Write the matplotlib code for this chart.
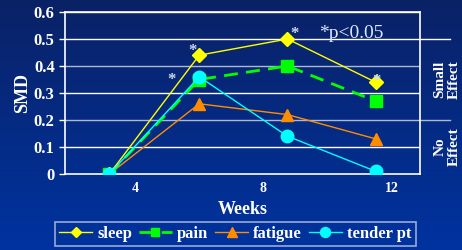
import numpy as np
import matplotlib
matplotlib.use('Agg')
import matplotlib.pyplot as plt
from matplotlib.colors import LinearSegmentedColormap

# data
weeks = [3.2, 6.0, 8.75, 11.5]
sleep = [0.0, 0.44, 0.50, 0.34]
pain = [0.0, 0.35, 0.40, 0.27]
fatigue = [0.0, 0.26, 0.22, 0.13]
tender = [0.0, 0.36, 0.14, 0.01]
y_ticks = [0, 0.1, 0.2, 0.3, 0.4, 0.5, 0.6]
x_ticks = [4, 8, 12]
# significance asterisks (x, y)
stars = [(5.78, 0.455), (8.98, 0.52), (11.53, 0.343), (5.15, 0.348)]

plt.rcParams['font.family'] = 'Liberation Serif'
plt.rcParams['font.weight'] = 'bold'

fig = plt.figure(figsize=(4.62, 2.5), dpi=100)

# gradient background
bg = fig.add_axes([0, 0, 1, 1], zorder=-10)
cmap = LinearSegmentedColormap.from_list('bg', ['#0a2266', '#0033a0'])
bg.imshow(np.linspace(0, 1, 256).reshape(-1, 1), aspect='auto', cmap=cmap,
          extent=[0, 1, 0, 1])
bg.axis('off')

ax = fig.add_axes([0.141, 0.304, 0.768, 0.648])
ax.patch.set_alpha(0)

for y in y_ticks[1:]:
    color = '#b0b8d0' if y in (0.2, 0.4) else 'white'
    ax.axhline(y, color=color, lw=1.0, zorder=1)

ax.plot(weeks, sleep, color='#ffff00', lw=1, marker='D', ms=7, mfc='#ffff00', mec='#ffff00', label='sleep', zorder=5)
ax.plot(weeks, pain, color='#00ff00', lw=2, ls=(0, (5, 3)), marker='s', ms=8, label='pain', zorder=4)
ax.plot(weeks, fatigue, color='#ff8c00', lw=1, marker='^', ms=9, label='fatigue', zorder=3)
ax.plot(weeks, tender, color='#00ffff', lw=1, marker='o', ms=9, label='tender pt', zorder=6)

ax.set_xlim(1.82, 12.88)
ax.set_ylim(0, 0.6)
ax.set_yticks(y_ticks)
ax.set_yticklabels(['0', '0.1', '0.2', '0.3', '0.4', '0.5', '0.6'])
ax.set_xticks(x_ticks)
ax.tick_params(axis='y', colors='white', labelsize=12, length=4, width=1)
ax.tick_params(axis='x', colors='white', labelsize=10, length=0, pad=6)
for s in ax.spines.values():
    s.set_color('white')
    s.set_linewidth(1.2)

ax.set_ylabel('SMD', color='white', fontsize=13, fontweight='bold', labelpad=2)
ax.set_xlabel('Weeks', color='white', fontsize=13, fontweight='bold', labelpad=4)

# significance markers
for sx, sy in stars:
    ax.text(sx, sy, '*', color='#d0d8f0', fontsize=12, ha='center', va='center', zorder=10)
ax.text(9.75, 0.505, '*p<0.05', color='#e0e8ff', fontsize=14, fontweight='normal')

# effect size bands on the right
for y in (0.2, 0.5):
    color = '#b0b8d0' if y == 0.2 else 'white'
    ax.plot([1.0, 1.085], [y / 0.6] * 2, transform=ax.transAxes,
            color=color, lw=1, clip_on=False)
ax.text(1.077, 0.35 / 0.6, 'Small\nEffect', transform=ax.transAxes, rotation=90,
        color='white', fontsize=11, ha='center', va='center', linespacing=1.15)
ax.text(1.077, 0.1 / 0.6, 'No\nEffect', transform=ax.transAxes, rotation=90,
        color='white', fontsize=11, ha='center', va='center', linespacing=1.15)

leg = fig.legend(loc='lower center', bbox_to_anchor=(0.509, -0.018), ncol=4,
                 frameon=True, fontsize=12, handlelength=2.0, handletextpad=0.3,
                 columnspacing=0.4, borderpad=0.25, markerscale=0.8)
leg.get_frame().set_facecolor('none')
leg.get_frame().set_edgecolor('#c0c8e0')
leg.get_frame().set_linewidth(1.2)
leg.get_frame().set_boxstyle('square', pad=0)
for t in leg.get_texts():
    t.set_color('white')

fig.savefig('out.png', dpi=100)
